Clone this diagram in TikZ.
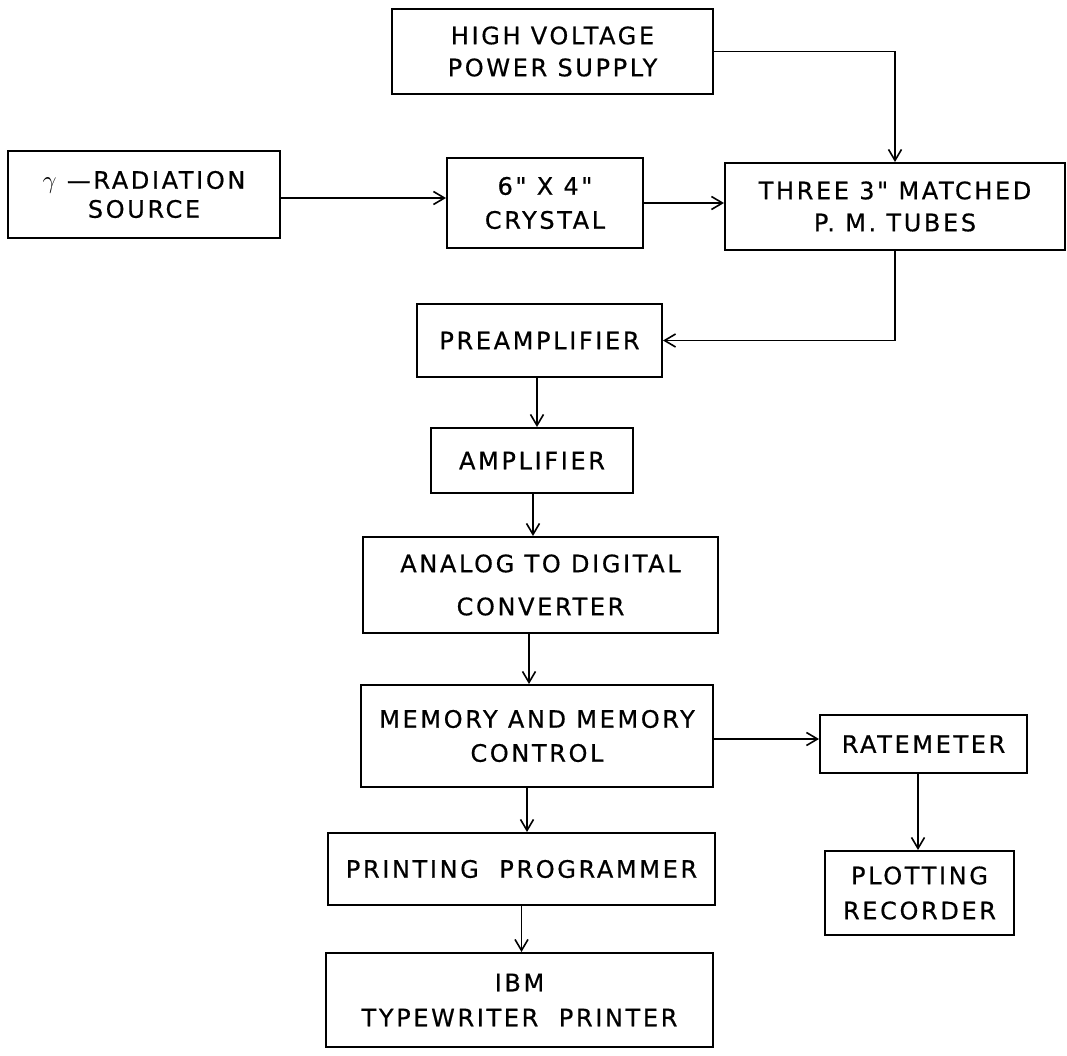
\documentclass[tikz,border=0pt]{standalone}
\usepackage{fontspec}
\setmainfont{DejaVu Sans}[LetterSpace=11, FakeBold=0.6, Ligatures=TeXOff]
\usetikzlibrary{arrows.meta}
\begin{document}
\begin{tikzpicture}[x=1pt,y=-1pt,
  blk/.style={draw, line width=2pt, inner sep=0pt, align=center,
    font=\fontsize{24}{32}\selectfont},
  flow/.style={line width=1.6pt,
    -{Straight Barb[length=11pt,width=13pt,line width=1.6pt]}}]
\useasboundingbox (0,0) rectangle (1067,1056);

% blocks
\node[blk, minimum width=321pt, minimum height=85pt] (hv) at (552.5,51.5)
  {HIGH VOLTAGE\\POWER SUPPLY};
\node[blk, minimum width=272pt, minimum height=87pt] (src) at (144,194.5)
  {{\fontsize{32}{31}\selectfont$\gamma$}\ —RADIATION\\[-3pt]SOURCE};
\node[blk, minimum width=196pt, minimum height=90pt] (cry) at (545,203)
  {6" X 4"\\[2pt]CRYSTAL};
\node[blk, minimum width=340pt, minimum height=87pt] (pm) at (895,206.5)
  {THREE 3" MATCHED\\P. M. TUBES};
\node[blk, minimum width=245pt, minimum height=73pt] (pre) at (539.5,340.5)
  {PREAMPLIFIER};
\node[blk, minimum width=202pt, minimum height=65pt] (amp) at (532,460.5)
  {AMPLIFIER};
\node[blk, minimum width=355pt, minimum height=96pt] (adc) at (540.5,585)
  {ANALOG TO DIGITAL\\[11pt]CONVERTER};
\node[blk, minimum width=352pt, minimum height=102pt] (mem) at (537,736)
  {MEMORY AND MEMORY\\[2pt]CONTROL};
\node[blk, minimum width=207pt, minimum height=58pt] (rate) at (923.5,744)
  {RATEMETER};
\node[blk, minimum width=387pt, minimum height=72pt] (pp) at (521.5,869)
  {PRINTING\ \ PROGRAMMER};
\node[blk, minimum width=189pt, minimum height=84pt] (plot) at (919.5,893)
  {PLOTTING\\[3pt]RECORDER};
\node[blk, minimum width=387pt, minimum height=94pt] (ibm) at (519.5,1000)
  {IBM\\[3pt]TYPEWRITER\ \ PRINTER};

% signal paths
\draw[flow] ([yshift=-3.5pt]src.east) -- ([yshift=-3.5pt]src.east -| cry.west);
\draw[flow] (cry.east) -- (cry.east -| pm.west);
\draw[flow] (hv.east) -| (pm.north);
\draw[flow] (pm.south) |- (pre.east);
\draw[flow] ([xshift=-2.5pt]pre.south) -- ([xshift=-2.5pt]pre.south |- amp.north);
\draw[flow] ([xshift=1pt]amp.south) -- ([xshift=1pt]amp.south |- adc.north);
\draw[flow] ([xshift=-11.5pt]adc.south) -- ([xshift=-11.5pt]adc.south |- mem.north);
\draw[flow] ([yshift=-3pt]mem.east) -- ([yshift=-3pt]mem.east -| rate.west);
\draw[flow] ([xshift=-10pt]mem.south) -- ([xshift=-10pt]mem.south |- pp.north);
\draw[flow] (pp.south) -- (pp.south |- ibm.north);
\draw[flow] ([xshift=-5.5pt]rate.south) -- ([xshift=-5.5pt]rate.south |- plot.north);
\end{tikzpicture}
\end{document}
